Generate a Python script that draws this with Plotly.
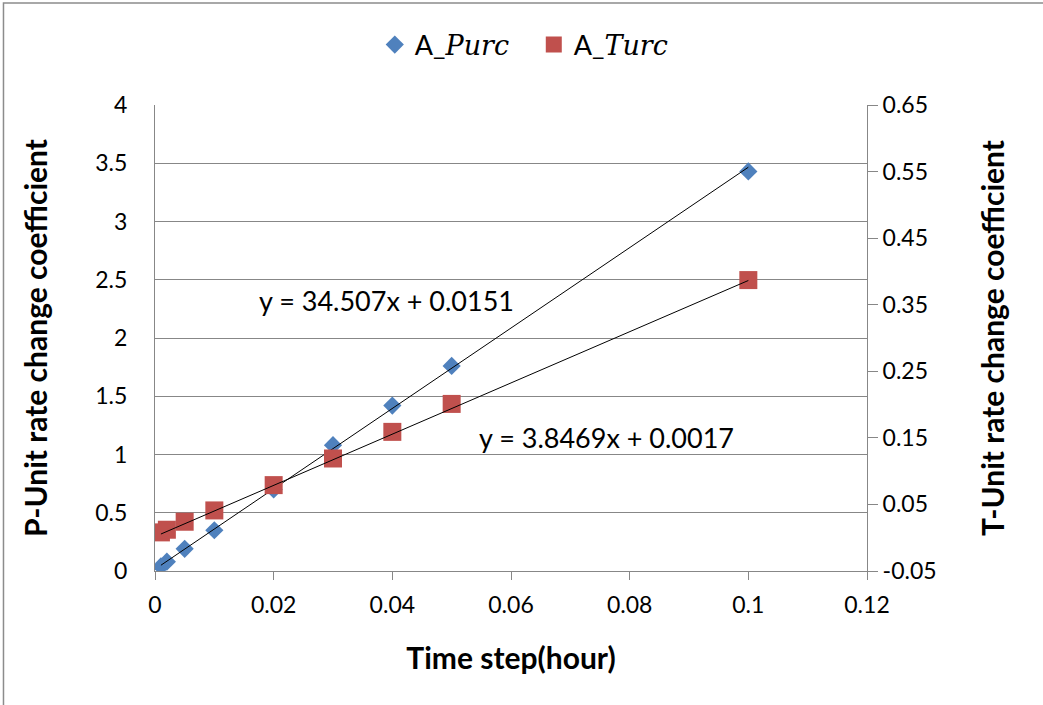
import numpy as np
import plotly.graph_objects as go

# Time step (hour)
time_step = [0.001, 0.002, 0.005, 0.01, 0.02, 0.03, 0.04, 0.05, 0.1]
# P-unit rate change coefficient (left axis)
p_rate = [0.04, 0.08, 0.19, 0.35, 0.70, 1.08, 1.42, 1.76, 3.43]
# T-unit rate change coefficient (right axis)
t_rate = [0.008, 0.012, 0.024, 0.041, 0.079, 0.119, 0.159, 0.201, 0.387]

# Linear trendline coefficients
p_slope, p_intercept = 34.507, 0.0151
t_slope, t_intercept = 3.8469, 0.0017

x_ticks = [0, 0.02, 0.04, 0.06, 0.08, 0.1, 0.12]
x_tick_text = ["0", "0.02", "0.04", "0.06", "0.08", "0.1", "0.12"]
y1_ticks = [0, 0.5, 1, 1.5, 2, 2.5, 3, 3.5, 4]
y1_tick_text = ["0", "0.5", "1", "1.5", "2", "2.5", "3", "3.5", "4"]
y2_ticks = [-0.05, 0.05, 0.15, 0.25, 0.35, 0.45, 0.55, 0.65]
y2_tick_text = ["-0.05", "0.05", "0.15", "0.25", "0.35", "0.45", "0.55", "0.65"]

FONT = "Lato, Calibri, Carlito, sans-serif"
GRID = "#878787"
SERIF = "font-family:'DejaVu Serif', serif; font-style:italic"
TICK_SIZE = 23
TITLE_SIZE = 30

fig = go.Figure()

fig.add_trace(go.Scatter(
    x=time_step, y=p_rate, mode="markers",
    name=f"A_<span style=\"{SERIF}\">Purc</span>",
    marker=dict(symbol="diamond", size=14, color="#4F81BD"),
    yaxis="y",
))

# trendlines span the data range
trend_x = np.array([min(time_step), max(time_step)])
fig.add_trace(go.Scatter(
    x=trend_x, y=p_slope * trend_x + p_intercept, mode="lines",
    line=dict(color="#000000", width=1), showlegend=False, hoverinfo="skip",
    yaxis="y",
))

fig.add_trace(go.Scatter(
    x=time_step, y=t_rate, mode="markers",
    name=f"A_<span style=\"{SERIF}\">Turc</span>",
    marker=dict(symbol="square", size=18, color="#C0504D"),
    yaxis="y2",
))
fig.add_trace(go.Scatter(
    x=trend_x, y=t_slope * trend_x + t_intercept, mode="lines",
    line=dict(color="#000000", width=1), showlegend=False, hoverinfo="skip",
    yaxis="y2",
))

fig.update_layout(
    width=1043, height=705,
    margin=dict(l=155, r=176, t=105, b=134, autoexpand=False),
    paper_bgcolor="white", plot_bgcolor="white",
    font=dict(family=FONT, size=TICK_SIZE, color="#000000"),
    showlegend=True,
    legend=dict(
        orientation="h", x=0.532, xanchor="center", y=1.1288, yanchor="middle",
        font=dict(family=FONT, size=27), itemwidth=30, entrywidth=114,
    ),
    xaxis=dict(
        range=[0, 0.12], tickvals=x_ticks, ticktext=x_tick_text,
        showgrid=False, zeroline=False,
        showline=True, linecolor=GRID, linewidth=1,
        ticks="outside", ticklen=8, tickcolor=GRID, ticklabelstandoff=5,
        tickfont=dict(size=TICK_SIZE),
        title=dict(text="<b>Time step(hour)</b>", font=dict(family=FONT, size=TITLE_SIZE), standoff=31),
    ),
    yaxis=dict(
        range=[0, 4], tickvals=y1_ticks, ticktext=y1_tick_text,
        showgrid=True, gridcolor=GRID, gridwidth=1, zeroline=False,
        showline=True, linecolor=GRID, linewidth=1,
        ticks="", ticklabelstandoff=22,
        tickfont=dict(size=TICK_SIZE),
        title=dict(text="<b>P-Unit rate change coefficient</b>", font=dict(family=FONT, size=TITLE_SIZE), standoff=38),
    ),
    yaxis2=dict(
        range=[-0.05, 0.65], tickvals=y2_ticks, ticktext=y2_tick_text,
        overlaying="y", side="right", anchor="x",
        showgrid=False, zeroline=False,
        showline=True, linecolor=GRID, linewidth=1,
        ticks="outside", ticklen=10, tickcolor=GRID,
        tickfont=dict(size=TICK_SIZE),
        title=dict(text="<b>T-Unit rate change coefficient</b>", font=dict(family=FONT, size=TITLE_SIZE), standoff=47),
    ),
    annotations=[
        dict(x=0.039, y=2.326, xref="x", yref="y", showarrow=False,
             text=f"y = {p_slope}x + {p_intercept}", font=dict(family=FONT, size=27),
             xanchor="center", yanchor="middle"),
        dict(x=0.0761, y=0.151, xref="x", yref="y2", showarrow=False,
             text=f"y = {t_slope}x + {t_intercept}", font=dict(family=FONT, size=27),
             xanchor="center", yanchor="middle"),
    ],
    shapes=[
        dict(type="rect", xref="paper", yref="paper",
             x0=-0.2128, x1=1.5, y0=-0.6, y1=1.2189,
             line=dict(color="#8c8c8c", width=1.5), layer="below"),
    ],
)

fig.write_html("out.html")
